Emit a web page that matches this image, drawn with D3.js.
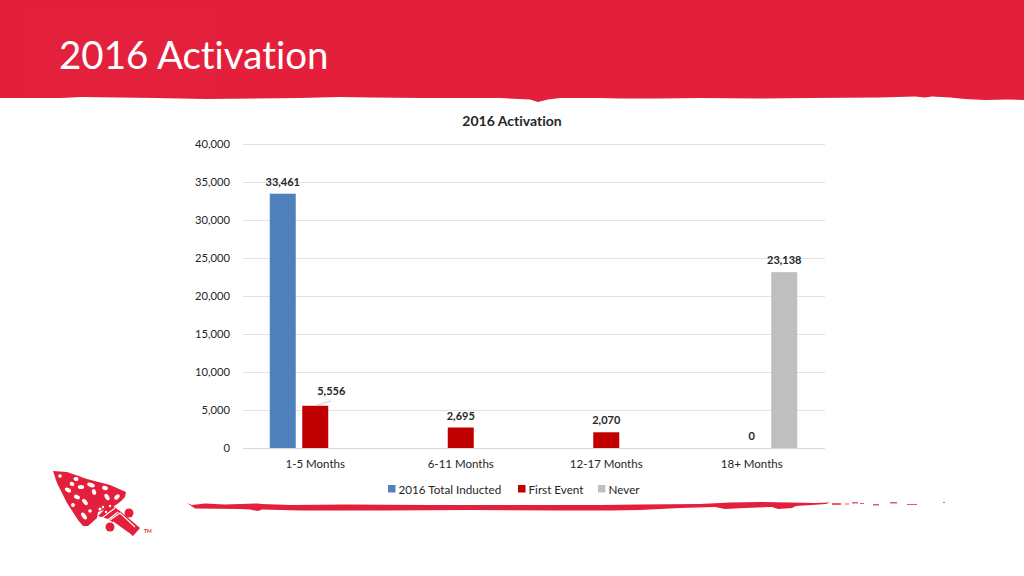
<!DOCTYPE html>
<html>
<head>
<meta charset="utf-8">
<script src="https://cdn.jsdelivr.net/npm/d3@7"></script>
<style>
  html, body { margin: 0; padding: 0; background: #fff; overflow: hidden; }
  svg { display: block; }
  text { font-family: Lato, "Open Sans", sans-serif; fill: #262626; font-variant-ligatures: none; }
</style>
</head>
<body>
<svg id="chart" width="1024" height="576"></svg>
<script>
const RED = "#e31f3c";

// chart values
const categories = ["1-5 Months", "6-11 Months", "12-17 Months", "18+ Months"];
const series = [
  { name: "2016 Total Inducted", color: "#4f81bd", values: [33461, null, null, null] },
  { name: "First Event", color: "#c00000", values: [5556, 2695, 2070, 0] },
  { name: "Never", color: "#bfbfbf", values: [null, null, null, 23138] }
];
// label offsets as the slide had them moved by hand
const labelShift = { "First Event-0": [16, -3] };

const svg = d3.select("#chart");

// SLIDE DECORATION
svg.append("path")
  .attr("fill", RED)
  .attr("d", "M0,0H1024V100L1008,99.5L985,100L965,99L950,97.5L932,96.5L925,97.5L915,96.5L880,97.5L810,98L760,98.5L700,98L660,98.5L620,98.5L600,98L560,98L548,99.5L538,102L530,99.5L500,98L420,98L370,97.5L340,97L300,98L206,99L155,98L82,97L60,98L0,98Z");
svg.append("rect")
  .attr("x", 24)
  .attr("y", 8)
  .attr("width", 192)
  .attr("height", 86)
  .attr("fill", "#e4213d");

svg.append("text")
  .attr("x", 59)
  .attr("y", 69)
  .attr("font-size", 38.5)
  .style("fill", "#fff")
  .text("2016 Activation");

// brush stroke above the footer
svg.append("path")
  .attr("fill", RED)
  .attr("d", "M187,503L192,505L205,503.5L225,504.5L258,503.5L262,504L290,505L345,504.5L430,505L520,505L600,505L640,504.5L700,504L730,502.5L760,502L790,502.5L815,503L830,502.5L826,504L812,505L796,506L792,508L778,509L772,507L745,508L725,509L715,507L680,508L640,510L610,510.5L560,510.5L470,510L380,510.5L300,510.5L262,509.5L258,511L250,509.5L240,509L195,508.5Z");
svg.append("g")
  .attr("fill", RED)
  .attr("opacity", 0.75)
  .selectAll("rect")
  .data([[832, 503, 9, 2], [845, 503.5, 4, 1], [852, 502, 6, 1.5], [860, 503, 4, 1], [873, 504, 6, 1.5], [890, 502, 7, 1.5], [907, 504, 10, 1], [943, 502, 2, 1]])
  .join("rect")
  .attr("x", d => d[0])
  .attr("y", d => d[1])
  .attr("width", d => d[2])
  .attr("height", d => d[3]);

// arrowhead logo
const logo = svg.append("g");
logo.append("path")
  .attr("fill", RED)
  .attr("d", "M53,471L67,472L87,479L110,485L126,492L125,497L120,502L113,507L98,512L97,518L88,526L83,526L78,520L67,503L57,483Z");
logo.append("path")
  .attr("fill", RED)
  .attr("d", "M110,504L120,511L140,528L133,536L108,519L98,516Z");
logo.selectAll(".loop")
  .data([[129, 513], [110, 527]])
  .join("circle")
  .attr("class", "loop")
  .attr("cx", d => d[0])
  .attr("cy", d => d[1])
  .attr("r", 4.5)
  .attr("fill", RED);
// [x, y, long radius, angle]
const spots = [[60, 476, 1.8, 0], [76, 479, 2.5, 10], [72, 484, 2.4, 30], [91, 485, 4, 20], [105, 488, 3, 15], [81, 487, 3.2, 0], [68, 490, 3.4, 30], [94, 492, 3, 70], [117, 497, 3.2, -45], [107, 497, 3.6, 60], [77, 497, 3.2, 25], [85, 502, 3.6, 50], [73, 505, 2, 30], [90, 511, 1.8, 0], [84, 516, 4, 55], [100, 509, 1.6, 0], [106, 512, 1.2, 0], [103, 507, 1.2, 0], [110, 506, 1.2, 0]];
logo.append("g")
  .attr("fill", "#fff")
  .selectAll("ellipse")
  .data(spots)
  .join("ellipse")
  .attr("transform", d => `translate(${d[0]},${d[1]}) rotate(${d[3]})`)
  .attr("rx", d => d[2])
  .attr("ry", d => Math.min(d[2], 2));
logo.append("path")
  .attr("fill", "none")
  .attr("stroke", "#fff")
  .attr("stroke-width", 1.1)
  .attr("d", "M102,518L115,508M105,522L118,512M110,520L120,513L135,527M113,522L131,535");
logo.append("text")
  .attr("x", 144)
  .attr("y", 533)
  .attr("font-size", 5)
  .attr("font-weight", 700)
  .style("fill", RED)
  .text("TM");

// CHART
const x = d3.scaleBand().domain(categories).range([242.5, 824.5]);
const y = d3.scaleLinear().domain([0, 40000]).range([448, 144]);
const inner = d3.scaleBand()
  .domain(series.map(d => d.name))
  .range([x.bandwidth() / 2 - 45.5, x.bandwidth() / 2 + 45.5])
  .paddingInner(0.2)
  .paddingOuter(0);

svg.append("text")
  .attr("x", 512)
  .attr("y", 126)
  .attr("text-anchor", "middle")
  .attr("font-size", 14)
  .attr("font-weight", 700)
  .text("2016 Activation");

const yAxis = svg.append("g")
  .attr("transform", "translate(243,0)")
  .call(d3.axisLeft(y).ticks(8).tickSize(-582).tickPadding(13).tickFormat(d3.format(",")));
yAxis.select(".domain").remove();
yAxis.selectAll("line").attr("stroke", "#e2e2e2");
yAxis.selectAll("text").attr("font-size", 11.2).style("font-family", "Lato");

const xAxis = svg.append("g")
  .attr("transform", "translate(0,448)")
  .call(d3.axisBottom(x).tickSize(0).tickPadding(11.5));
xAxis.select(".domain").attr("stroke", "#d8d8d8");
xAxis.selectAll("text").attr("font-size", 11.5).style("font-family", "Lato");

series.forEach(s => {
  const rows = s.values.map((v, i) => ({ v, i, cat: categories[i] })).filter(d => d.v !== null);

  svg.selectAll(null)
    .data(rows)
    .join("rect")
    .attr("x", d => x(d.cat) + inner(s.name))
    .attr("y", d => y(d.v))
    .attr("width", inner.bandwidth())
    .attr("height", d => y(0) - y(d.v))
    .attr("fill", s.color);

  svg.selectAll(null)
    .data(rows)
    .join("text")
    .attr("x", d => x(d.cat) + inner(s.name) + inner.bandwidth() / 2 + (labelShift[s.name + "-" + d.i] || [0, 0])[0])
    .attr("y", d => y(d.v) - 8 + (labelShift[s.name + "-" + d.i] || [0, 0])[1])
    .attr("text-anchor", "middle")
    .attr("font-size", 11)
    .attr("font-weight", 700)
    .text(d => d3.format(",")(d.v));
});

// leader line for the moved 5,556 label
const moved = series[1].values[0];
svg.append("line")
  .attr("x1", x(categories[0]) + inner("First Event") + inner.bandwidth() / 2)
  .attr("y1", y(moved))
  .attr("x2", x(categories[0]) + inner("First Event") + inner.bandwidth() / 2 + 16)
  .attr("y2", y(moved) - 5)
  .attr("stroke", "#bfbfbf")
  .attr("stroke-width", 0.8);

// legend
const legendX = [388, 518, 598];
const legend = svg.selectAll(".legend")
  .data(series)
  .join("g")
  .attr("class", "legend")
  .attr("transform", (d, i) => `translate(${legendX[i]},485)`);
legend.append("rect")
  .attr("width", 7.5)
  .attr("height", 7.5)
  .attr("fill", d => d.color);
legend.append("text")
  .attr("x", 10.5)
  .attr("y", 8.5)
  .attr("font-size", 11.7)
  .text(d => d.name);
</script>
</body>
</html>
